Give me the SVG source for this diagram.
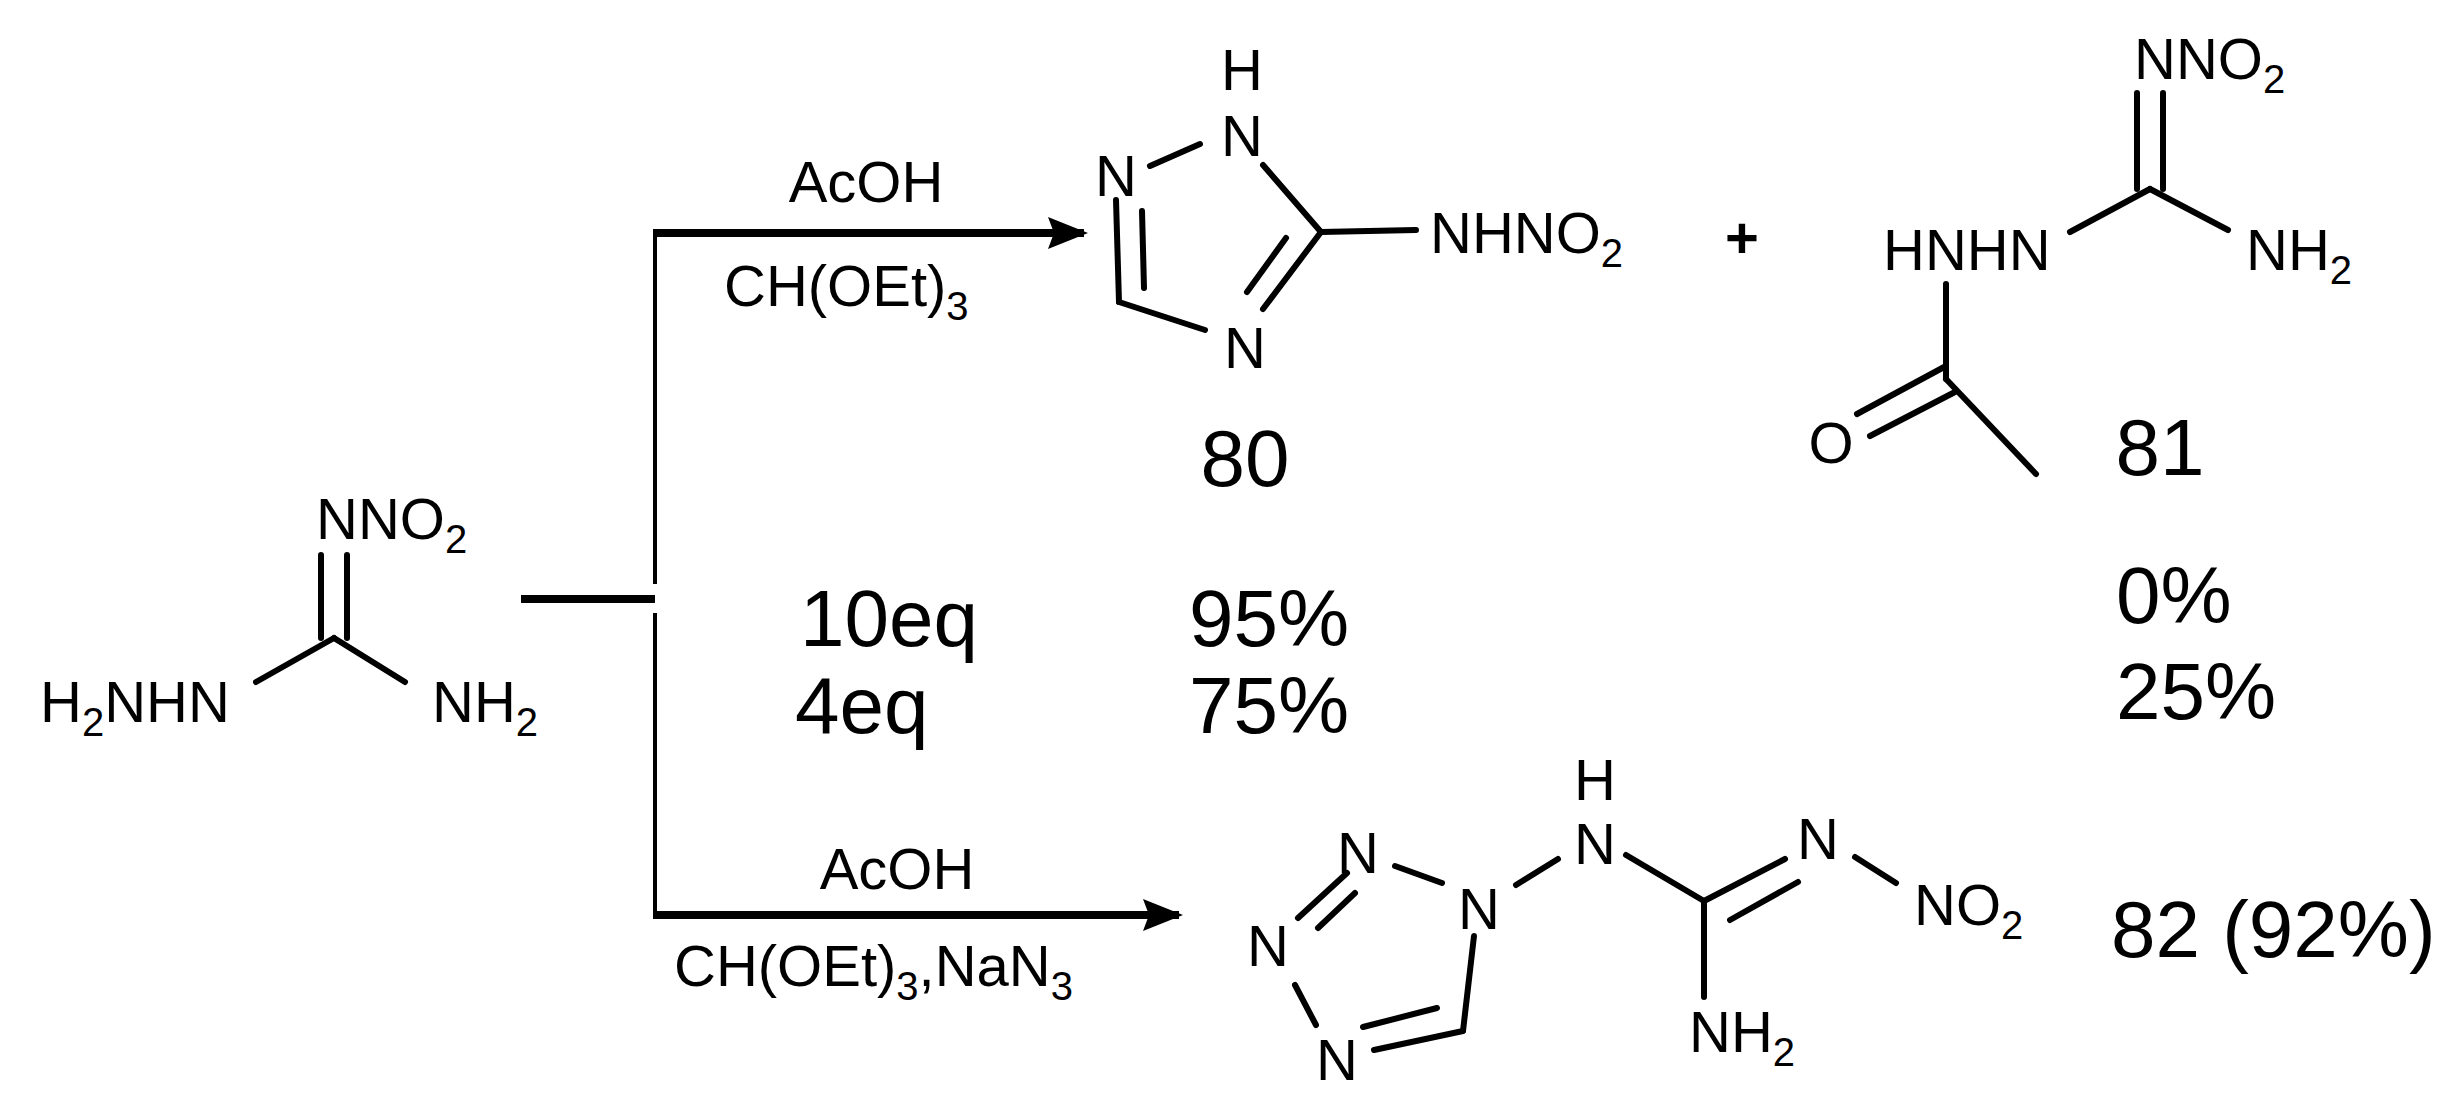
<svg xmlns="http://www.w3.org/2000/svg" width="2463" height="1099" viewBox="0 0 2463 1099">
<style>
.b{stroke:#000;stroke-width:6;stroke-linecap:round;fill:none}
.t{font-family:"Liberation Sans",Arial,sans-serif;font-size:58px;fill:#000}
.n{font-family:"Liberation Sans",Arial,sans-serif;font-size:80px;fill:#000}
.s{font-size:40px}
</style>
<defs><marker id="ah" viewBox="0 0 10 8" refX="9" refY="4" markerWidth="5" markerHeight="4.5" markerUnits="strokeWidth" orient="auto"><path d="M0,0L10,4L0,8L1.5,4Z" fill="#000"/></marker></defs>
<rect width="2463" height="1099" fill="#fff"/>
<g id="connectors">
<line x1="521" y1="599" x2="655" y2="599" stroke="#000" stroke-width="8"/>
<line x1="655" y1="233" x2="655" y2="584" stroke="#000" stroke-width="4"/>
<line x1="655" y1="613" x2="655" y2="915" stroke="#000" stroke-width="4"/>
<line x1="653" y1="233" x2="1084" y2="233" stroke="#000" stroke-width="8" marker-end="url(#ah)"/>
<line x1="653" y1="915" x2="1179" y2="915" stroke="#000" stroke-width="8" marker-end="url(#ah)"/>
<text class="t" x="866" y="202" text-anchor="middle">AcOH</text>
<text class="t" x="724" y="306">CH(OEt)<tspan class="s" dy="14">3</tspan></text>
<text class="t" x="897" y="889" text-anchor="middle">AcOH</text>
<text class="t" x="674" y="986">CH(OEt)<tspan class="s" dy="14">3</tspan><tspan dy="-14">,NaN</tspan><tspan class="s" dy="14">3</tspan></text>
</g>
<g id="reactant">
<line class="b" x1="321" y1="555" x2="321" y2="638"/>
<line class="b" x1="347" y1="555" x2="347" y2="638"/>
<line class="b" x1="334" y1="638" x2="256" y2="682"/>
<line class="b" x1="334" y1="638" x2="405" y2="682"/>
<text class="t" x="316" y="539">NNO<tspan class="s" dy="14">2</tspan></text>
<text class="t" x="40" y="722">H<tspan class="s" dy="14">2</tspan><tspan dy="-14">NHN</tspan></text>
<text class="t" x="432" y="722">NH<tspan class="s" dy="14">2</tspan></text>
</g>
<g id="product80">
<line class="b" x1="1150" y1="166" x2="1200" y2="144"/>
<line class="b" x1="1263" y1="165" x2="1321" y2="232"/>
<line class="b" x1="1321" y1="232" x2="1416" y2="230"/>
<line class="b" x1="1321" y1="232" x2="1263" y2="309"/>
<line class="b" x1="1286" y1="238" x2="1247" y2="292"/>
<line class="b" x1="1205" y1="330" x2="1119" y2="302"/>
<line class="b" x1="1119" y1="302" x2="1116" y2="200"/>
<line class="b" x1="1144" y1="288" x2="1142" y2="211"/>
<text class="t" x="1242" y="90" text-anchor="middle">H</text>
<text class="t" x="1242" y="156" text-anchor="middle">N</text>
<text class="t" x="1116" y="196" text-anchor="middle">N</text>
<text class="t" x="1245" y="368" text-anchor="middle">N</text>
<text class="t" x="1430" y="253">NHNO<tspan class="s" dy="14">2</tspan></text>
<text class="n" x="1245" y="486" text-anchor="middle">80</text>
</g>
<g id="plus"><text class="t" x="1742" y="258" text-anchor="middle" font-weight="bold">+</text></g>
<g id="product81">
<line class="b" x1="2137" y1="93" x2="2137" y2="189"/>
<line class="b" x1="2163" y1="93" x2="2163" y2="189"/>
<line class="b" x1="2150" y1="189" x2="2070" y2="232"/>
<line class="b" x1="2150" y1="189" x2="2228" y2="230"/>
<line class="b" x1="1946" y1="284" x2="1946" y2="379"/>
<line class="b" x1="1946" y1="366" x2="1857" y2="414"/>
<line class="b" x1="1955" y1="392" x2="1870" y2="436"/>
<line class="b" x1="1946" y1="379" x2="2036" y2="474"/>
<text class="t" x="2134" y="79">NNO<tspan class="s" dy="14">2</tspan></text>
<text class="t" x="1883" y="270">HNHN</text>
<text class="t" x="2246" y="270">NH<tspan class="s" dy="14">2</tspan></text>
<text class="t" x="1831" y="463" text-anchor="middle">O</text>
<text class="n" x="2160" y="475" text-anchor="middle">81</text>
</g>
<g id="yields">
<text class="n" x="800" y="646">10eq</text>
<text class="n" x="795" y="733">4eq</text>
<text class="n" x="1189" y="646">95%</text>
<text class="n" x="1189" y="733">75%</text>
<text class="n" x="2116" y="623">0%</text>
<text class="n" x="2116" y="719">25%</text>
</g>
<g id="product82">
<line class="b" x1="1395" y1="866" x2="1442" y2="883"/>
<line class="b" x1="1516" y1="885" x2="1558" y2="859"/>
<line class="b" x1="1347" y1="873" x2="1298" y2="918"/>
<line class="b" x1="1355" y1="893" x2="1318" y2="928"/>
<line class="b" x1="1295" y1="985" x2="1316" y2="1025"/>
<line class="b" x1="1374" y1="1050" x2="1463" y2="1031"/>
<line class="b" x1="1363" y1="1027" x2="1437" y2="1008"/>
<line class="b" x1="1463" y1="1031" x2="1474" y2="936"/>
<line class="b" x1="1626" y1="855" x2="1704" y2="901"/>
<line class="b" x1="1704" y1="901" x2="1785" y2="859"/>
<line class="b" x1="1730" y1="920" x2="1798" y2="882"/>
<line class="b" x1="1855" y1="857" x2="1896" y2="883"/>
<line class="b" x1="1704" y1="901" x2="1704" y2="997"/>
<text class="t" x="1595" y="800" text-anchor="middle">H</text>
<text class="t" x="1595" y="864" text-anchor="middle">N</text>
<text class="t" x="1358" y="873" text-anchor="middle">N</text>
<text class="t" x="1479" y="929" text-anchor="middle">N</text>
<text class="t" x="1268" y="966" text-anchor="middle">N</text>
<text class="t" x="1337" y="1080" text-anchor="middle">N</text>
<text class="t" x="1818" y="859" text-anchor="middle">N</text>
<text class="t" x="1914" y="925">NO<tspan class="s" dy="14">2</tspan></text>
<text class="t" x="1689" y="1052">NH<tspan class="s" dy="14">2</tspan></text>
<text class="n" x="2111" y="957">82 (92%)</text>
</g>
</svg>
